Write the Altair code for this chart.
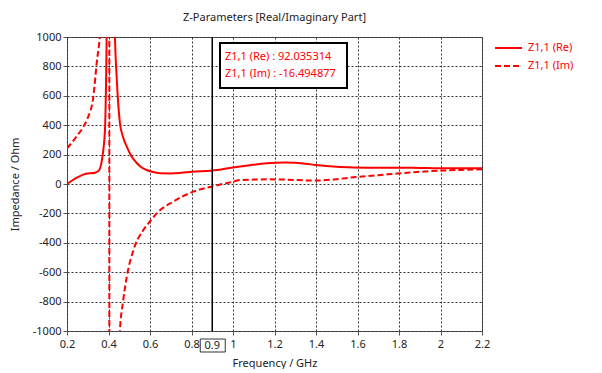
import altair as alt
import pandas as pd

# ---- data ----
freq_re = [0.2, 0.25, 0.287, 0.335, 0.355, 0.367, 0.375, 0.383, 0.391, 0.398, 0.405,
           0.411, 0.418, 0.425, 0.431, 0.44, 0.455, 0.47, 0.488, 0.51, 0.536, 0.56,
           0.584, 0.61, 0.648, 0.7, 0.75, 0.8, 0.9, 1.0, 1.08, 1.162, 1.25, 1.3,
           1.35, 1.4, 1.5, 1.58, 1.7, 1.8, 1.9, 2.0, 2.1, 2.2]
re_vals = [0, 45, 68, 77, 95, 152, 232, 368, 1000, 2200, 4000,
           4000, 2300, 1400, 1000, 708, 415, 320, 254, 190, 143, 112,
           95, 83, 73, 72, 76, 83, 92, 113, 128, 141, 146, 145,
           138, 129, 117, 113, 111, 111, 109, 107, 107, 107]

freq_im = [0.2, 0.25, 0.279, 0.3, 0.327, 0.343, 0.36, 0.38, 0.395, 0.403, 0.405,
           0.42, 0.44, 0.455, 0.471, 0.488, 0.52, 0.568, 0.6, 0.632, 0.712, 0.809,
           0.9, 1.0, 1.034, 1.1, 1.162, 1.25, 1.4, 1.5, 1.58, 1.7, 1.805, 1.9,
           2.0, 2.1, 2.2]
im_vals = [243, 330, 390, 450, 595, 822, 1050, 1800, 4000, 30000, -30000,
           -3000, -1500, -995, -790, -631, -450, -313, -255, -200, -120, -52,
           -16.5, 16, 27, 30, 32, 30, 23, 33, 46, 60, 73, 83,
           91, 96, 100]

series_names = ["Z1,1 (Re)", "Z1,1 (Im)"]
x_ticks = [0.2, 0.4, 0.6, 0.8, 1.0, 1.2, 1.4, 1.6, 1.8, 2.0, 2.2]
y_ticks = [-1000, -800, -600, -400, -200, 0, 200, 400, 600, 800, 1000]
marker_freq = 0.9
marker_re = "92.035314"
marker_im = "-16.494877"

df_re = pd.DataFrame({"f": freq_re, "v": re_vals})
df_im = pd.DataFrame({"f": freq_im, "v": im_vals})
df_marker = pd.DataFrame({"f": [marker_freq], "lbl": [str(marker_freq)]})

FONT = "Noto Sans"
FS = 11
RED = "#ff0000"
TXT = "#222222"

xscale = alt.Scale(domain=[0.2, 2.2], nice=False, zero=False)
yscale = alt.Scale(domain=[-1000, 1000], nice=False, zero=False)

xaxis = alt.Axis(values=x_ticks, labelExpr="'' + round(datum.value*10)/10",
                 grid=True, gridDash=[2, 2], gridColor="#333333", gridWidth=1,
                 domain=False, tickColor="#555555", tickSize=4, labelPadding=3,
                 labelFont=FONT, labelFontSize=FS, labelColor=TXT,
                 labelFlush=False, labelOverlap=False,
                 title="Frequency / GHz", titleFont=FONT, titleFontSize=FS,
                 titleFontWeight="normal", titleColor=TXT, titlePadding=8)
yaxis = alt.Axis(values=y_ticks, labelExpr="'' + datum.value",
                 grid=True, gridDash=[2, 2], gridColor="#333333", gridWidth=1,
                 domain=False, tickColor="#555555", tickSize=4, labelPadding=2,
                 labelFont=FONT, labelFontSize=FS, labelColor=TXT,
                 labelFlush=False, labelOverlap=False,
                 title="Impedance / Ohm", titleFont=FONT, titleFontSize=FS,
                 titleFontWeight="normal", titleColor=TXT, titlePadding=12)

x_enc = alt.X("f:Q", scale=xscale, axis=xaxis)
y_enc = alt.Y("v:Q", scale=yscale, axis=yaxis)

im_line = alt.Chart(df_im).mark_line(color=RED, strokeWidth=2, strokeDash=[6, 3],
                                      clip=True, interpolate="monotone").encode(x=x_enc, y=y_enc)
re_line = alt.Chart(df_re).mark_line(color=RED, strokeWidth=2, clip=True,
                                      interpolate="monotone").encode(x=x_enc, y=y_enc)

rule = alt.Chart(df_marker).mark_rule(color="black", strokeWidth=1.5).encode(x=x_enc)

axis_box = alt.Chart(df_marker).mark_rect(fill="white", stroke="#333333", strokeWidth=1,
                                          xOffset=-12, x2Offset=13).encode(
    x=x_enc, x2="f:Q", y=alt.value(302), y2=alt.value(315))
axis_txt = alt.Chart(df_marker).mark_text(font=FONT, fontSize=FS, color=TXT,
                                          baseline="middle", align="center").encode(
    x=x_enc, y=alt.value(308.5), text="lbl:N")

info_box = alt.Chart(df_marker).mark_rect(fill="white", stroke="black", strokeWidth=2).encode(
    x=alt.value(153), x2=alt.value(280), y=alt.value(6), y2=alt.value(51))
info_df = pd.DataFrame({"t": [series_names[0] + " : " + marker_re,
                              series_names[1] + " : " + marker_im]})
info_t1 = alt.Chart(info_df.iloc[[0]]).mark_text(font=FONT, fontSize=FS, color=RED,
                                                   align="left", baseline="middle").encode(
    x=alt.value(158), y=alt.value(20), text="t:N")
info_t2 = alt.Chart(info_df.iloc[[1]]).mark_text(font=FONT, fontSize=FS, color=RED,
                                                   align="left", baseline="middle").encode(
    x=alt.value(158), y=alt.value(37), text="t:N")

leg_df = pd.DataFrame({"name": series_names})
leg_re_line = alt.Chart(leg_df.iloc[[0]]).mark_rule(color=RED, strokeWidth=2).encode(
    x=alt.value(428), x2=alt.value(455), y=alt.value(11))
leg_im_line = alt.Chart(leg_df.iloc[[1]]).mark_rule(color=RED, strokeWidth=2, strokeDash=[6, 3]).encode(
    x=alt.value(428), x2=alt.value(455), y=alt.value(29))
leg_re_txt = alt.Chart(leg_df.iloc[[0]]).mark_text(font=FONT, fontSize=FS, color=RED,
                                                    align="left", baseline="middle").encode(
    x=alt.value(461), y=alt.value(11), text="name:N")
leg_im_txt = alt.Chart(leg_df.iloc[[1]]).mark_text(font=FONT, fontSize=FS, color=RED,
                                                    align="left", baseline="middle").encode(
    x=alt.value(461), y=alt.value(29), text="name:N")

chart = alt.layer(
    im_line, re_line, rule, axis_box, axis_txt, info_box, info_t1, info_t2,
    leg_re_line, leg_im_line, leg_re_txt, leg_im_txt
).properties(
    width=415, height=294,
    background="white",
    title=alt.TitleParams("Z-Parameters [Real/Imaginary Part]", font=FONT, fontSize=FS,
                          fontWeight="normal", color=TXT, anchor="middle", offset=8),
    autosize=alt.AutoSizeParams(type="none"),
    padding={"left": 59, "top": 29, "right": 112, "bottom": 38},
).configure_view(
    stroke="#555555", strokeWidth=1
)

chart.save("out.html", embed_options={"renderer": "svg", "actions": False})
